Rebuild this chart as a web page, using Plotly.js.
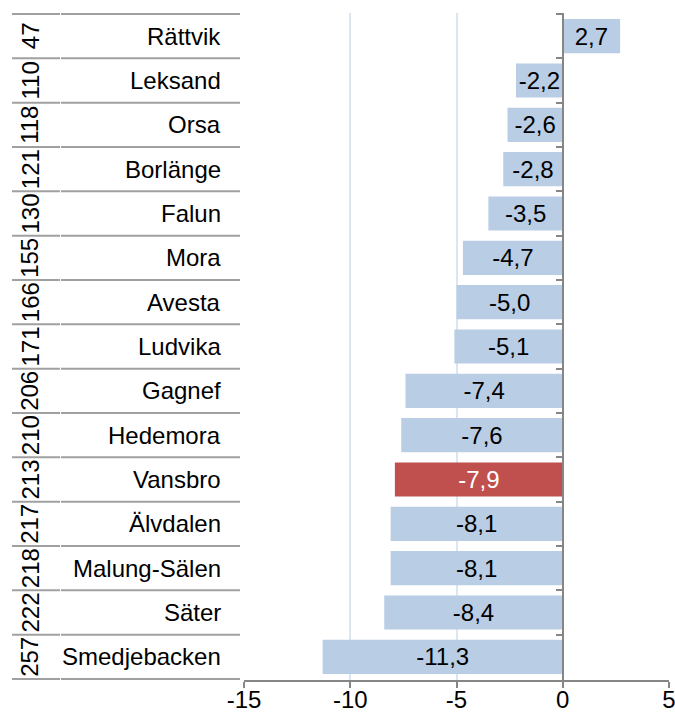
<!DOCTYPE html>
<html>
<head>
<meta charset="utf-8">
<script src="https://cdn.plot.ly/plotly-3.0.1.min.js"></script>
<style>html,body{margin:0;padding:0;background:#fff;}#chart{width:675px;height:717px;}</style>
</head>
<body>
<div id="chart"></div>
<script>
const municipalities = ["Rättvik","Leksand","Orsa","Borlänge","Falun","Mora","Avesta","Ludvika","Gagnef","Hedemora","Vansbro","Älvdalen","Malung-Sälen","Säter","Smedjebacken"];
const ranks = ["47","110","118","121","130","155","166","171","206","210","213","217","218","222","257"];
const values = [2.7,-2.2,-2.6,-2.8,-3.5,-4.7,-5.0,-5.1,-7.4,-7.6,-7.9,-8.1,-8.1,-8.4,-11.3];
const highlight = "Vansbro";
const xTicks = [-15,-10,-5,0,5];

const FONT = "Liberation Sans, Arial, sans-serif";
const FS = 24;
const barColors = municipalities.map(m => m === highlight ? "#C0504D" : "#B9CDE5");
const textColors = municipalities.map(m => m === highlight ? "#FFFFFF" : "#000000");

const trace = {
  type: "bar",
  orientation: "h",
  y: municipalities,
  x: values,
  marker: {color: barColors},
  texttemplate: "%{x:.1f}",
  textposition: "inside",
  insidetextanchor: "middle",
  constraintext: "none",
  textfont: {family: FONT, size: FS, color: textColors},
  hoverinfo: "none"
};

// table lines and labels on the left
const plotLeftPx = 244, plotWidthPx = 425;
const px2paper = p => (p - plotLeftPx) / plotWidthPx;
const shapes = [];
for (let i = 0; i <= municipalities.length; i++) {
  const yb = i - 0.5;
  shapes.push({type: "line", xref: "paper", yref: "y", x0: px2paper(12), x1: px2paper(60), y0: yb, y1: yb, line: {color: "#A0A0A0", width: 2}});
  shapes.push({type: "line", xref: "paper", yref: "y", x0: px2paper(61), x1: px2paper(240), y0: yb, y1: yb, line: {color: "#A0A0A0", width: 2}});
}
const annotations = [];
municipalities.forEach((m, i) => {
  annotations.push({xref: "paper", yref: "y", x: px2paper(223), y: m, text: m, showarrow: false, xanchor: "right", yanchor: "middle", font: {family: FONT, size: FS, color: "#000"}});
  annotations.push({xref: "paper", yref: "y", x: px2paper(30), y: m, text: ranks[i], showarrow: false, xanchor: "center", yanchor: "middle", textangle: -90, font: {family: FONT, size: FS, color: "#000"}});
});

const layout = {
  width: 675, height: 717,
  margin: {l: 244, r: 6, t: 13, b: 37},
  paper_bgcolor: "#fff", plot_bgcolor: "#fff",
  separators: ", ",
  showlegend: false,
  bargap: 0.23,
  xaxis: {
    range: [-15, 5], tickvals: xTicks, ticktext: xTicks.map(String),
    showgrid: true, gridcolor: "#DCE6F2", gridwidth: 2,
    zeroline: false, showline: true, linecolor: "#868686", linewidth: 2,
    ticks: "outside", ticklen: 6, tickwidth: 2, tickcolor: "#868686",
    ticklabelstandoff: -9, ticklabeloverflow: "allow",
    tickfont: {family: FONT, size: FS, color: "#000"}, automargin: false
  },
  yaxis: {
    autorange: "reversed", type: "category",
    anchor: "free", position: 0.75,
    showline: true, linecolor: "#868686", linewidth: 2,
    ticks: "outside", tickson: "boundaries", ticklen: 6, tickwidth: 2, tickcolor: "#868686",
    showticklabels: false, showgrid: false, zeroline: false, automargin: false
  },
  shapes: shapes,
  annotations: annotations
};

Plotly.newPlot("chart", [trace], layout, {staticPlot: true, displayModeBar: false});
</script>
</body>
</html>
